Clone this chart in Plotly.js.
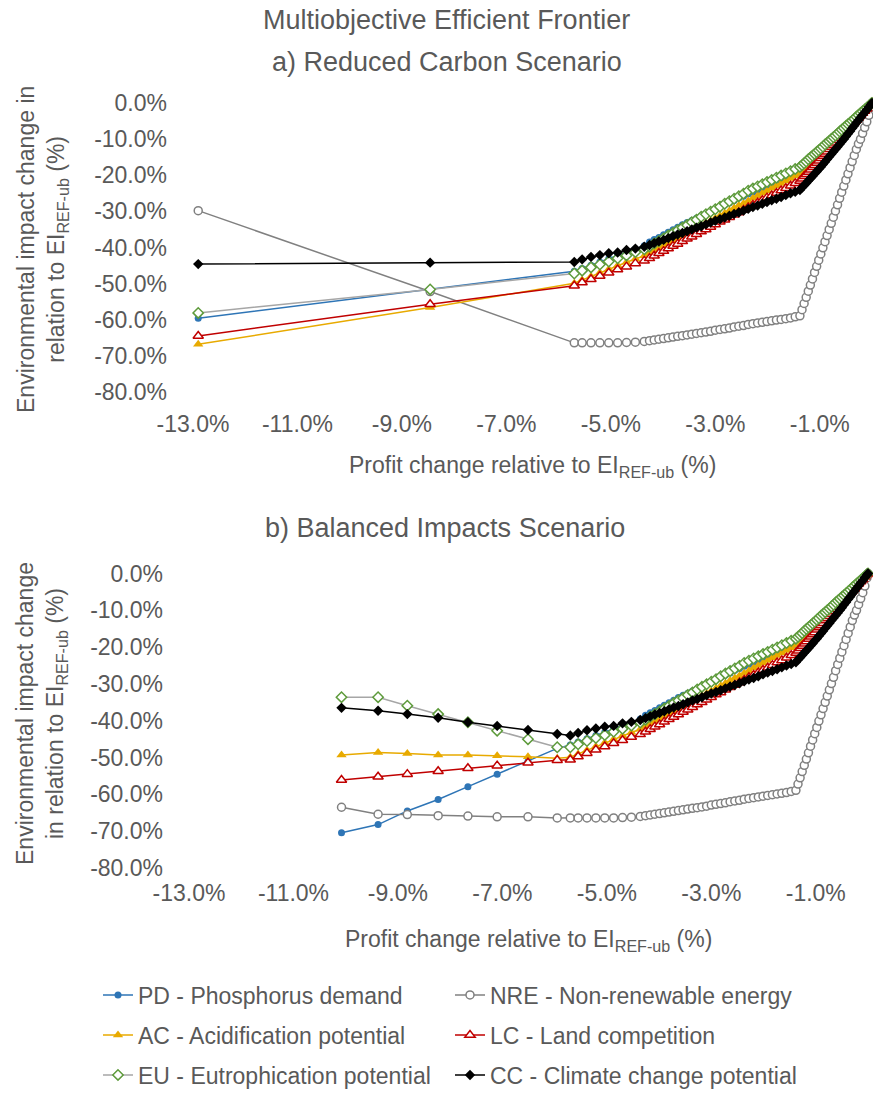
<!DOCTYPE html>
<html><head><meta charset="utf-8">
<script src="https://cdn.plot.ly/plotly-3.0.1.min.js"></script>
<style>html,body{margin:0;padding:0;background:#fff}#chart{width:873px;height:1093px}</style>
</head><body><div id="chart"></div><script>
// ---------- tick labels ----------
const xTickVals = [-13, -11, -9, -7, -5, -3, -1];
const xTickText = ['-13.0%', '-11.0%', '-9.0%', '-7.0%', '-5.0%', '-3.0%', '-1.0%'];
const yTickVals = [0, -10, -20, -30, -40, -50, -60, -70, -80];
const yTickText = ['0.0%', '-10.0%', '-20.0%', '-30.0%', '-40.0%', '-50.0%', '-60.0%', '-70.0%', '-80.0%'];

// ---------- a) Reduced Carbon Scenario: left-hand solutions ----------
const xTopLeft   = [-12.9, -8.46];
const pdTopLeft  = [-59.6, -51.7];
const nreTopLeft = [-29.8, -52.2];
const acTopLeft  = [-66.8, -56.6];
const lcTopLeft  = [-64.5, -55.7];
const euTopLeft  = [-58.1, -51.6];
const ccTopLeft  = [-44.6, -44.2];

// ---------- b) Balanced Impacts Scenario: left-hand solutions ----------
const xBotLeft   = [-10.08, -9.38, -8.82, -8.23, -7.66, -7.10, -6.51, -5.95];
const pdBotLeft  = [-70.4, -68.2, -64.5, -61.4, -57.9, -54.5, -51.1, -47.5];
const nreBotLeft = [-63.5, -65.4, -65.5, -65.8, -65.9, -66.1, -66.1, -66.4];
const acBotLeft  = [-49.3, -48.6, -48.9, -49.3, -49.3, -49.5, -49.8, -50.2];
const lcBotLeft  = [-56.1, -55.2, -54.5, -53.7, -52.9, -52.2, -51.4, -50.7];
const euBotLeft  = [-33.6, -33.6, -35.9, -38.2, -40.4, -42.7, -45.0, -47.2];
const ccBotLeft  = [-36.5, -37.3, -38.2, -39.2, -40.4, -41.4, -42.5, -43.6];

// ---------- right-hand solutions (same in both scenarios) ----------
const xRight = [-5.70, -5.55, -5.38, -5.21, -5.04, -4.87, -4.70, -4.53, -4.36,
  -4.26, -4.17, -4.08, -3.99, -3.90, -3.81, -3.72, -3.63, -3.54, -3.45, -3.36, -3.27, -3.18, -3.09, -3.00,
  -2.91, -2.82, -2.73, -2.64, -2.55, -2.46, -2.37, -2.28, -2.19, -2.10, -2.01, -1.92, -1.83, -1.74, -1.65,
  -1.56, -1.47, -1.38,
  -1.34, -1.30, -1.26, -1.22, -1.18, -1.14, -1.10, -1.06, -1.02, -0.98, -0.94, -0.90, -0.86, -0.82, -0.78,
  -0.74, -0.70, -0.66, -0.62, -0.58, -0.54, -0.50, -0.46, -0.42, -0.38, -0.34, -0.30, -0.26, -0.22, -0.18,
  -0.14, -0.10, -0.06, -0.02, 0];
const pdRight = [-46.6, -45.8, -44.9, -44.0, -43.1, -42.2, -41.3, -40.4, -39.5,
  -38.5, -37.8, -37.2, -36.5, -35.8, -35.1, -34.4, -33.7, -33.1, -32.5, -31.9, -31.3, -30.6, -30.0, -29.4,
  -28.8, -28.2, -27.6, -27.0, -26.3, -25.8, -25.2, -24.7, -24.1, -23.6, -23.0, -22.5, -22.0, -21.4, -20.9,
  -20.3, -19.8, -19.2,
  -18.6, -18.1, -17.5, -17.0, -16.4, -15.9, -15.3, -14.7, -14.2, -13.6, -13.1, -12.5, -12.0, -11.4, -10.8,
  -10.3, -9.7, -9.2, -8.6, -8.1, -7.5, -7.0, -6.4, -5.8, -5.3, -4.7, -4.2, -3.6, -3.1, -2.5,
  -1.9, -1.4, -0.8, -0.3, 0];
const nreRight = [-66.4, -66.4, -66.4, -66.4, -66.4, -66.4, -66.3, -66.2, -66.0,
  -65.8, -65.6, -65.4, -65.2, -65.0, -64.8, -64.6, -64.4, -64.2, -64.0, -63.8, -63.6, -63.4, -63.2, -62.9,
  -62.7, -62.5, -62.3, -62.0, -61.8, -61.6, -61.3, -61.1, -60.9, -60.7, -60.5, -60.3, -60.1, -59.9, -59.7,
  -59.5, -59.2, -58.9,
  -57.2, -55.5, -53.8, -52.1, -50.4, -48.7, -46.9, -45.2, -43.5, -41.8, -40.1, -38.4, -36.7, -35.0, -33.3,
  -31.6, -29.9, -28.2, -26.4, -24.7, -23.0, -21.3, -19.6, -17.9, -16.2, -14.5, -12.8, -11.3, -10.0, -8.4,
  -6.8, -5.2, -3.4, -1.2, 0];
const acRight = [-49.9, -49.0, -48.0, -47.0, -46.0, -45.0, -44.1, -43.2, -42.3,
  -41.5, -40.8, -40.2, -39.5, -38.8, -38.1, -37.4, -36.7, -36.0, -35.3, -34.6, -33.9, -33.2, -32.6, -31.9,
  -31.2, -30.5, -29.8, -29.1, -28.4, -27.8, -27.1, -26.4, -25.7, -25.0, -24.3, -23.6, -22.9, -22.3, -21.6,
  -20.9, -20.2, -19.5,
  -18.9, -18.4, -17.8, -17.2, -16.7, -16.1, -15.5, -15.0, -14.4, -13.8, -13.3, -12.7, -12.1, -11.6, -11.0,
  -10.5, -9.9, -9.3, -8.8, -8.2, -7.6, -7.1, -6.5, -5.9, -5.4, -4.8, -4.2, -3.7, -3.1, -2.5,
  -2.0, -1.4, -0.8, -0.3, 0];
const lcRight = [-50.6, -49.7, -48.8, -47.9, -47.0, -46.1, -45.3, -44.4, -43.7,
  -43.0, -42.3, -41.6, -41.0, -40.3, -39.6, -39.0, -38.3, -37.6, -37.0, -36.3, -35.6, -35.0, -34.3, -33.6,
  -32.9, -32.3, -31.6, -30.9, -30.3, -29.6, -28.9, -28.2, -27.6, -26.9, -26.2, -25.6, -24.9, -24.2, -23.6,
  -22.9, -22.2, -21.6,
  -21.0, -20.3, -19.7, -19.1, -18.5, -17.8, -17.2, -16.6, -16.0, -15.3, -14.7, -14.1, -13.5, -12.8, -12.2,
  -11.6, -11.0, -10.3, -9.7, -9.1, -8.4, -7.8, -7.2, -6.6, -5.9, -5.3, -4.7, -4.1, -3.4, -2.8,
  -2.2, -1.6, -0.9, -0.3, 0];
const euRight = [-47.2, -46.4, -45.5, -44.7, -43.9, -43.0, -42.2, -41.3, -40.5,
  -39.7, -38.9, -38.2, -37.5, -36.7, -36.0, -35.2, -34.5, -33.8, -33.0, -32.3, -31.5, -30.8, -30.1, -29.4,
  -28.7, -27.9, -27.2, -26.5, -25.8, -25.1, -24.3, -23.7, -23.1, -22.5, -21.9, -21.3, -20.7, -20.1, -19.5,
  -18.9, -18.3, -17.7,
  -17.2, -16.7, -16.2, -15.6, -15.1, -14.6, -14.1, -13.6, -13.1, -12.6, -12.1, -11.5, -11.0, -10.5, -10.0,
  -9.5, -9.0, -8.5, -7.9, -7.4, -6.9, -6.4, -5.9, -5.4, -4.9, -4.4, -3.8, -3.3, -2.8, -2.3,
  -1.8, -1.3, -0.8, -0.2, 0];
const ccRight = [-44.0, -43.3, -42.6, -42.1, -41.6, -41.4, -40.7, -40.3, -39.8,
  -39.3, -38.8, -38.3, -37.9, -37.4, -36.9, -36.4, -36.0, -35.5, -35.0, -34.5, -34.1, -33.6, -33.1, -32.6,
  -32.2, -31.7, -31.2, -30.7, -30.3, -29.8, -29.3, -28.8, -28.4, -27.9, -27.4, -26.9, -26.5, -26.0, -25.5,
  -25.0, -24.6, -24.1,
  -23.4, -22.8, -22.2, -21.5, -20.9, -20.3, -19.6, -19.0, -18.3, -17.7, -17.0, -16.3, -15.6, -14.9, -14.2,
  -13.5, -12.8, -12.1, -11.4, -10.7, -10.0, -9.3, -8.5, -7.8, -7.0, -6.3, -5.5, -4.8, -4.0, -3.3,
  -2.6, -1.9, -1.1, -0.4, 0];

const seriesNames = ['PD - Phosphorus demand', 'NRE - Non-renewable energy', 'AC - Acidification potential',
                     'LC - Land competition', 'EU - Eutrophication potential', 'CC - Climate change potential'];

// ---------- styling ----------
const FONT = 'Liberation Sans, Arial, Helvetica, sans-serif';
const TXT = '#595959';
const AX = '#D9D9D9';
const styles = [
  {line: '#2E75B6', marker: {symbol: 'circle', size: 7, color: '#2E75B6', line: {width: 0}}},
  {line: '#808080', marker: {symbol: 'circle', size: 8, color: '#FFFFFF', line: {width: 1.5, color: '#808080'}}},
  {line: '#E8AA00', marker: {symbol: 'triangle-up', size: 9, color: '#E8AA00', line: {width: 0}}},
  {line: '#C00000', marker: {symbol: 'triangle-up', size: 9, color: '#FFFFFF', line: {width: 1.5, color: '#C00000'}}},
  {line: '#A6A6A6', marker: {symbol: 'diamond', size: 8, color: '#FFFFFF', line: {width: 1.5, color: '#5E9B3C'}}},
  {line: '#000000', marker: {symbol: 'diamond', size: 8, color: '#000000', line: {width: 0}}}
];

const xTop = xTopLeft.concat(xRight);
const xBot = xBotLeft.concat(xRight);
const topY = [pdTopLeft.concat(pdRight), nreTopLeft.concat(nreRight), acTopLeft.concat(acRight),
              lcTopLeft.concat(lcRight), euTopLeft.concat(euRight), ccTopLeft.concat(ccRight)];
const botY = [pdBotLeft.concat(pdRight), nreBotLeft.concat(nreRight), acBotLeft.concat(acRight),
              lcBotLeft.concat(lcRight), euBotLeft.concat(euRight), ccBotLeft.concat(ccRight)];
const legendIds = ['legend', 'legend2', 'legend3', 'legend4', 'legend5', 'legend6'];

const traces = [];
seriesNames.forEach((nm, i) => {
  traces.push({type: 'scatter', mode: 'lines+markers', x: xTop, y: topY[i], xaxis: 'x', yaxis: 'y',
    name: nm, legend: legendIds[i], line: {color: styles[i].line, width: 1.5}, marker: styles[i].marker,
    cliponaxis: false, hoverinfo: 'skip'});
});
seriesNames.forEach((nm, i) => {
  traces.push({type: 'scatter', mode: 'lines+markers', x: xBot, y: botY[i], xaxis: 'x2', yaxis: 'y2',
    name: nm, showlegend: false, line: {color: styles[i].line, width: 1.5}, marker: styles[i].marker,
    cliponaxis: false, hoverinfo: 'skip'});
});

const tf = {family: FONT, size: 23, color: TXT};
function labelX(domain, anchor, standoff) {
  return {domain: domain, anchor: anchor, range: [-13, 0], tickmode: 'array', tickvals: xTickVals, ticktext: xTickText,
    ticks: '', showline: false, showgrid: false, zeroline: false, tickfont: tf, ticklabelstandoff: standoff, fixedrange: true};
}
function lineX(over, anchor, inside) {
  const a = {overlaying: over, anchor: anchor, side: 'top', range: [-13, 0], tickmode: 'linear', tick0: -13, dtick: 2,
    ticks: inside ? 'inside' : 'outside', ticklen: 8, tickwidth: 1.5, tickcolor: AX,
    showline: !inside, linecolor: AX, linewidth: 2, showticklabels: false, showgrid: false, zeroline: false, fixedrange: true};
  if (!inside) a.minor = {ticks: 'outside', ticklen: 6, tickwidth: 1.5, tickcolor: AX, dtick: 1, tick0: -13, showgrid: false};
  return a;
}
function labelY(domain, anchor, standoff) {
  return {domain: domain, anchor: anchor, range: [-80, 0], tickmode: 'array', tickvals: yTickVals, ticktext: yTickText,
    ticks: '', showline: false, showgrid: false, zeroline: false, tickfont: tf, ticklabelstandoff: standoff, fixedrange: true};
}
function lineY(over, anchor, minor) {
  const a = {overlaying: over, anchor: anchor, side: 'right', range: [-80, 0], tickmode: 'linear', tick0: 0, dtick: 10,
    ticks: 'inside', ticklen: 9, tickwidth: 1.5, tickcolor: AX, showline: true, linecolor: AX, linewidth: 2,
    showticklabels: false, showgrid: false, zeroline: false, fixedrange: true};
  if (minor) a.minor = {ticks: 'inside', ticklen: 5, tickwidth: 1.5, tickcolor: AX, dtick: 2, tick0: 0, showgrid: false};
  return a;
}

const legFont = {family: FONT, size: 23, color: TXT};
function leg(x, y) {
  return {x: x, y: y, xanchor: 'left', yanchor: 'middle', orientation: 'v', bgcolor: 'rgba(0,0,0,0)',
    borderwidth: 0, font: legFont, itemclick: false, itemdoubleclick: false};
}
const col1 = 98 / 873, col2 = 450 / 873;
const row1 = 1 - 995 / 1093, row2 = 1 - 1035 / 1093, row3 = 1 - 1075 / 1093;

function ann(text, x, y, size, angle) {
  return {text: text, x: x, y: y, xref: 'paper', yref: 'paper', xanchor: 'center', yanchor: 'middle',
    showarrow: false, textangle: angle || 0, font: {family: FONT, size: size, color: TXT}};
}

const layout = {
  width: 873, height: 1093,
  margin: {l: 0, r: 0, t: 0, b: 0, autoexpand: false},
  paper_bgcolor: '#FFFFFF', plot_bgcolor: 'rgba(0,0,0,0)',
  hovermode: false, dragmode: false,
  font: {family: FONT, color: TXT},
  xaxis: labelX([193 / 873, 872 / 873], 'y', 16),
  yaxis: labelY([1 - 392 / 1093, 1 - 103 / 1093], 'x', 25),
  xaxis3: lineX('x', 'y', false),
  xaxis5: lineX('x', 'y', true),
  yaxis3: lineY('y', 'x', false),
  xaxis2: labelX([189 / 873, 868 / 873], 'y2', 9),
  yaxis2: labelY([1 - 868 / 1093, 1 - 573.5 / 1093], 'x2', 25),
  xaxis4: lineX('x2', 'y2', false),
  xaxis6: lineX('x2', 'y2', true),
  yaxis4: lineY('y2', 'x2', true),
  legend: leg(col1, row1), legend2: leg(col2, row1),
  legend3: leg(col1, row2), legend4: leg(col2, row2),
  legend5: leg(col1, row3), legend6: leg(col2, row3),
  annotations: [
    ann('Multiobjective Efficient Frontier', 447 / 873, 1 - 20 / 1093, 27),
    ann('a) Reduced Carbon Scenario', 447 / 873, 1 - 62 / 1093, 27),
    ann('b) Balanced Impacts Scenario', 445 / 873, 1 - 528 / 1093, 27),
    ann('Profit change relative to EI<sub>REF-ub</sub> (%)', 532 / 873, 1 - 466 / 1093, 23),
    ann('Profit change relative to EI<sub>REF-ub</sub> (%)', 528 / 873, 1 - 940 / 1093, 23),
    ann('Environmental impact change in<br>relation to EI<sub>REF-ub</sub> (%)', 43 / 873, 1 - 250 / 1093, 23, -90),
    ann('Environmental impact change<br>in relation to EI<sub>REF-ub</sub> (%)', 41 / 873, 1 - 714 / 1093, 23, -90)
  ]
};

Plotly.newPlot('chart', traces, layout, {displayModeBar: false, staticPlot: true});
</script></body></html>
